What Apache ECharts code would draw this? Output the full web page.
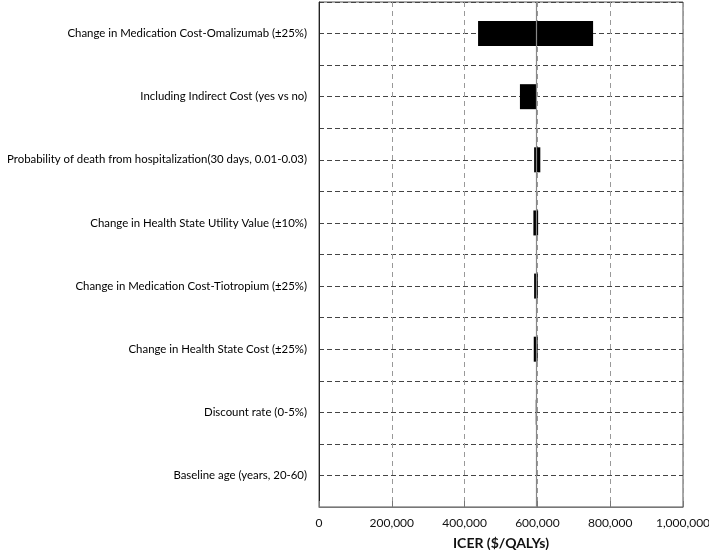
<!DOCTYPE html>
<html>
<head>
<meta charset="utf-8">
<script src="https://cdn.jsdelivr.net/npm/echarts@6/dist/echarts.min.js"></script>
<style>
  html, body { margin: 0; padding: 0; background: #fff; }
  #main { width: 709px; height: 550px; }
</style>
</head>
<body>
<div id="main"></div>
<script>
// parameters, top to bottom
let params = [
  'Change in Medication Cost-Omalizumab (±25%)',
  'Including Indirect Cost (yes vs no)',
  'Probability of death from hospitalization(30 days, 0.01-0.03)',
  'Change in Health State Utility Value (±10%)',
  'Change in Medication Cost-Tiotropium (±25%)',
  'Change in Health State Cost (±25%)',
  'Discount rate (0-5%)',
  'Baseline age (years, 20-60)'
];
// ICER at low / high end of each range
let lowValues = [437000, 552000, 591000, 589000, 591000, 590000, 595500, 598000];
let highValues = [753000, 598000, 608000, 602000, 601000, 600500, 598500, 598400];
let baseIcer = 598000;
let xTicks = [0, 200000, 400000, 600000, 800000, 1000000];

let spanValues = [];
for (let i = 0; i < params.length; i++) {
  spanValues.push(highValues[i] - lowValues[i]);
}
// half-band rows, only used for the dashed horizontal lines
let halfRows = [];
for (let i = 0; i < params.length * 2; i++) halfRows.push('r' + i);

let fmt = function (v) {
  return v.toString().replace(/\B(?=(\d{3})+(?!\d))/g, ',');
};

var chart = echarts.init(document.getElementById('main'));
let option = {
  animation: false,
  textStyle: { fontFamily: 'Lato' },
  grid: {
    left: 319, right: 26, top: 2, bottom: 43,
    outerBoundsMode: 'none',
    containLabel: false,
    show: true, borderColor: '#555', borderWidth: 1
  },
  xAxis: {
    type: 'value',
    min: xTicks[0],
    max: xTicks[xTicks.length - 1],
    interval: 200000,
    name: 'ICER ($/QALYs)',
    nameLocation: 'middle',
    nameGap: 29,
    nameTextStyle: { fontFamily: 'Lato', fontWeight: 'bold', fontSize: 14, color: '#111' },
    axisLine: { show: true, lineStyle: { color: '#777' } },
    axisTick: { show: true, inside: true, length: 6, lineStyle: { color: '#777' } },
    axisLabel: { color: '#111', fontSize: 12, margin: 10, formatter: fmt },
    splitLine: { show: true, lineStyle: { color: '#999', type: [5, 4], width: 1 } }
  },
  yAxis: [{
    type: 'category',
    data: params,
    inverse: true,
    axisLine: { show: true, lineStyle: { color: '#222' } },
    axisTick: { show: false },
    axisLabel: { color: '#000', fontSize: 11.4, margin: 12 },
    splitLine: { show: false }
  }, {
    type: 'category',
    data: halfRows,
    inverse: true,
    position: 'right',
    axisLine: { show: false },
    axisTick: { show: false },
    axisLabel: { show: false },
    splitLine: { show: true, lineStyle: { color: '#444', type: [5, 3], width: 1 } }
  }],
  series: [{
    name: 'base',
    type: 'bar',
    stack: 'icer',
    yAxisIndex: 0,
    barWidth: 25,
    itemStyle: { color: 'transparent' },
    data: lowValues
  }, {
    name: 'range',
    type: 'bar',
    stack: 'icer',
    yAxisIndex: 0,
    barWidth: 25,
    itemStyle: { color: '#000' },
    data: spanValues,
    markLine: {
      silent: true,
      symbol: 'none',
      label: { show: false },
      lineStyle: { color: '#888', type: 'solid', width: 1.2 },
      data: [{ xAxis: baseIcer }]
    }
  }]
};
chart.setOption(option);
</script>
</body>
</html>
